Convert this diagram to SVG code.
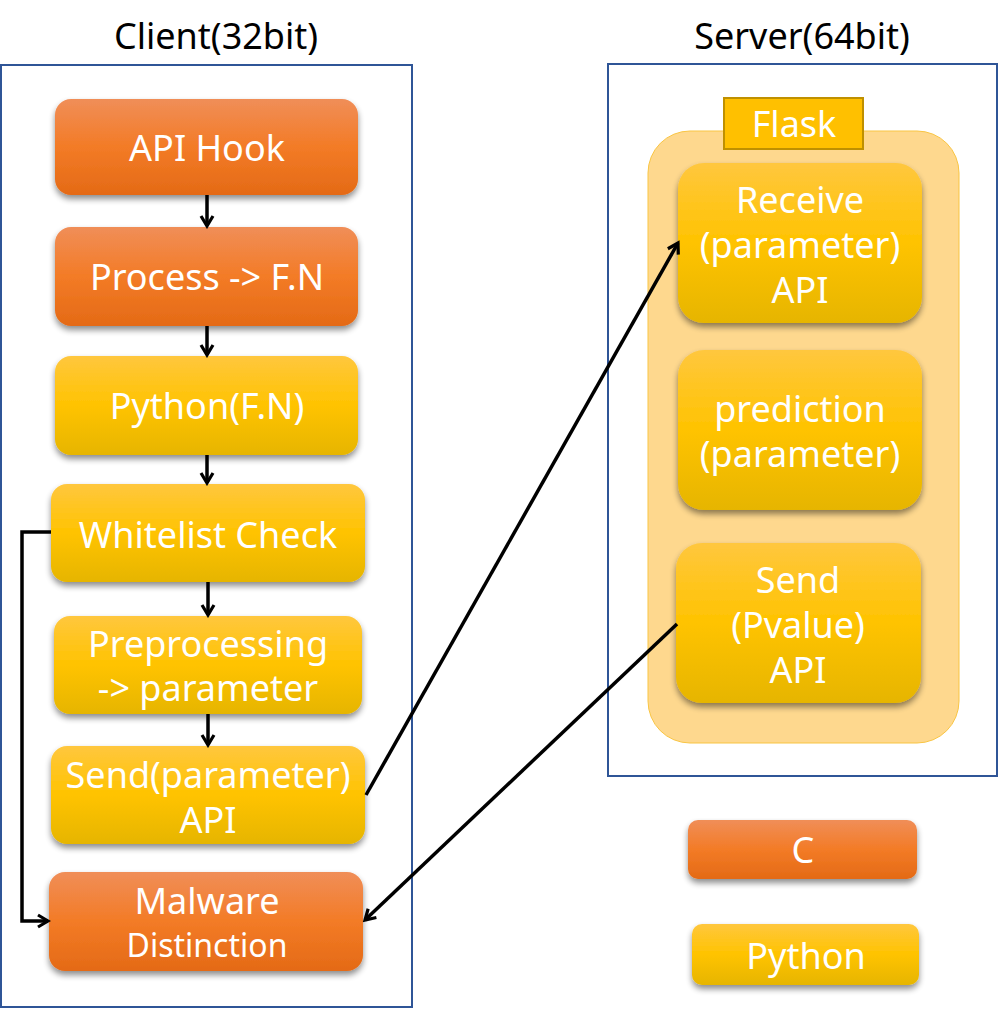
<svg xmlns="http://www.w3.org/2000/svg" width="998" height="1013" viewBox="0 0 998 1013">
<defs>
<linearGradient id="gOr" x1="0" y1="0" x2="0" y2="1">
<stop offset="0" stop-color="#F08E58"/>
<stop offset="0.5" stop-color="#F37B26"/>
<stop offset="1" stop-color="#E46A16"/>
</linearGradient>
<linearGradient id="gYe" x1="0" y1="0" x2="0" y2="1">
<stop offset="0" stop-color="#FFC73E"/>
<stop offset="0.5" stop-color="#FFC300"/>
<stop offset="1" stop-color="#E6B500"/>
</linearGradient>
<filter id="sh" x="-10%" y="-10%" width="120%" height="130%">
<feGaussianBlur in="SourceAlpha" stdDeviation="3"/>
<feOffset dx="0" dy="4" result="b"/>
<feComponentTransfer><feFuncA type="linear" slope="0.45"/></feComponentTransfer>
<feMerge><feMergeNode/><feMergeNode in="SourceGraphic"/></feMerge>
</filter>
<marker id="arr" viewBox="0 0 16 16" refX="13" refY="8" markerWidth="16" markerHeight="16" markerUnits="userSpaceOnUse" orient="auto">
<path d="M3,2 L13,8 L3,14" fill="none" stroke="#000" stroke-width="3.2"/>
</marker>
</defs>
<style>
text{font-family:"Noto Sans","Open Sans","DejaVu Sans",sans-serif;fill:#fff;text-anchor:middle}
.title{fill:#000;font-size:36px}
.t{font-size:36px}
.s{font-size:32px}
.or{fill:url(#gOr);filter:url(#sh)}
.ye{fill:url(#gYe);filter:url(#sh)}
.frame{fill:none;stroke:#2F5597;stroke-width:2}
.c{fill:none;stroke:#000;stroke-width:3.5}
</style>
<rect width="998" height="1013" fill="#fff"/>

<g id="client">
<text class="title" x="216" y="49">Client(32bit)</text>
<rect class="frame" x="1" y="65" width="411" height="942"/>
</g>
<g id="server">
<text class="title" x="802" y="49">Server(64bit)</text>
<rect class="frame" x="608" y="64" width="389" height="712"/>
</g>
<g id="flask">
<rect x="648" y="131" width="311" height="612" rx="42" fill="#FED88E" stroke="#F9C543" stroke-width="1"/>
<rect x="724" y="98" width="139" height="51" fill="#FFC000" stroke="#BF9000" stroke-width="2"/>
<text class="t" x="794" y="137">Flask</text>
</g>

<g id="api-hook">
<rect class="or" x="55" y="99" width="303" height="96" rx="16"/>
<text class="t" x="207" y="161">API Hook</text>
</g>
<g id="process">
<rect class="or" x="55" y="227" width="303" height="99" rx="16"/>
<text class="t" x="207" y="290">Process -&gt; F.N</text>
</g>
<g id="python-fn">
<rect class="ye" x="55" y="356" width="303" height="99" rx="16"/>
<text class="t" x="207" y="419">Python(F.N)</text>
</g>
<g id="whitelist">
<rect class="ye" x="51" y="484" width="314" height="98" rx="16"/>
<text class="t" x="208" y="548">Whitelist Check</text>
</g>
<g id="preprocessing">
<rect class="ye" x="54" y="616" width="308" height="98" rx="16"/>
<text class="t" x="208" y="657">Preprocessing</text>
<text class="t" x="208" y="701">-&gt; parameter</text>
</g>
<g id="send-parameter">
<rect class="ye" x="51" y="746" width="314" height="98" rx="16"/>
<text class="t" x="208" y="788">Send(parameter)</text>
<text class="t" x="208" y="833">API</text>
</g>
<g id="malware">
<rect class="or" x="49" y="872" width="314" height="99" rx="16"/>
<text class="t" x="207" y="914">Malware</text>
<text class="s" x="207" y="957">Distinction</text>
</g>

<g id="receive">
<rect class="ye" x="678" y="163" width="244" height="160" rx="26"/>
<text class="t" x="800" y="213">Receive</text>
<text class="t" x="800" y="258">(parameter)</text>
<text class="t" x="800" y="303">API</text>
</g>
<g id="prediction">
<rect class="ye" x="678" y="350" width="244" height="160" rx="26"/>
<text class="t" x="800" y="422">prediction</text>
<text class="t" x="800" y="467">(parameter)</text>
</g>
<g id="send-pvalue">
<rect class="ye" x="676" y="543" width="245" height="160" rx="26"/>
<text class="t" x="798" y="593">Send</text>
<text class="t" x="798" y="638">(Pvalue)</text>
<text class="t" x="798" y="683">API</text>
</g>

<g id="legend-c">
<rect class="or" x="688" y="820" width="229" height="59" rx="10"/>
<text class="t" x="803" y="863">C</text>
</g>
<g id="legend-python">
<rect class="ye" x="692" y="924" width="227" height="61" rx="10"/>
<text class="t" x="806" y="969">Python</text>
</g>

<g id="connectors">
<line class="c" x1="207" y1="195" x2="207" y2="226" marker-end="url(#arr)"/>
<line class="c" x1="207" y1="326" x2="207" y2="355" marker-end="url(#arr)"/>
<line class="c" x1="207" y1="455" x2="207" y2="483" marker-end="url(#arr)"/>
<line class="c" x1="208" y1="582" x2="208" y2="615" marker-end="url(#arr)"/>
<line class="c" x1="208" y1="714" x2="208" y2="745" marker-end="url(#arr)"/>
<polyline class="c" points="51,532 22,532 22,921 48,921" marker-end="url(#arr)"/>
<line class="c" x1="366" y1="795" x2="678" y2="243" marker-end="url(#arr)"/>
<line class="c" x1="677" y1="624" x2="365" y2="920" marker-end="url(#arr)"/>
</g>
</svg>
